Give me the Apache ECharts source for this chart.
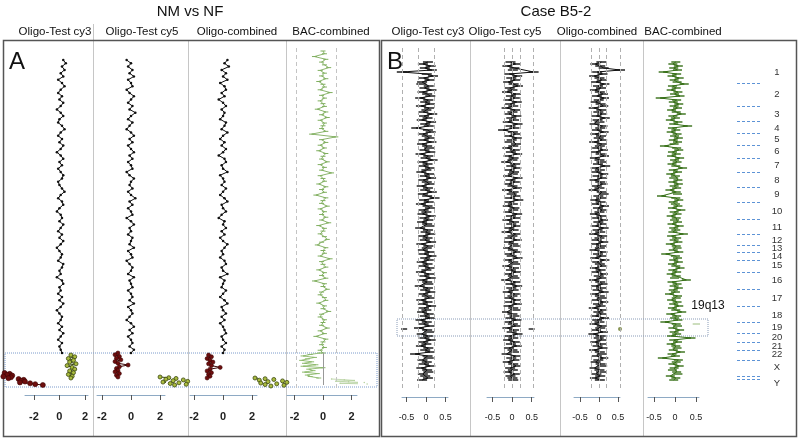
<!DOCTYPE html>
<html><head><meta charset="utf-8">
<script src="https://cdn.jsdelivr.net/npm/echarts@6/dist/echarts.min.js"></script>
<style>html,body{margin:0;padding:0;background:#fff}#c{width:800px;height:441px}</style>
</head><body><div id="c"></div>
<script>
// ---------- DATA ----------
const chrNames = ['1','2','3','4','5','6','7','8','9','10','11','12','13','14','15','16','17','18','19','20','21','22','X','Y'];
const chrLabelPos = [14,36,56,70,81,93,107,122,136,153,169,182,190,198,207,222,240,257,269,279,288,296,309,325];
const chrBounds = [25,48,63,75,87,100,114,129,144,161,176,187,194,202,214,231,248,264,275,284,292,302,318,321];

// Panel A (NM vs NF) – log2 ratios along the genome
const A1 = [.3,.5,.2,.4,.1,.3,-.1,.2,.4,.1,-.1,.2,0,.3,.1,-.2,.1,.3,0,-.1,.2,.4,.1,-.1,.2,0,.3,.1,-.2,.1,.3,0,.2,-.1,.1,.3,.2,-.1,0,.2,.4,.1,-.1,.2,.3,0,-.2,.1,.2,0,.3,.1,-.1,.2,0,.3,.1,-.2,0,.2,.1,-.1,.3,.2,0,.1,-.2,.2,.3,0,.1,-.1,.2,0,.3,.1,-.2,0,.2,.1,-.1,.2,0,.3,.1,-.1,.2,0,.1,.2];
const A2 = [-.3,0,-.2,.1,-.1,.2,-.2,0,.1,-.3,-.1,.2,0,-.2,.1,-.1,.3,0,-.2,.1,-.1,-.3,0,.2,-.1,.1,-.2,0,.2,-.1,.1,-.2,0,.1,-.3,-.1,.2,0,-.1,.1,-.2,0,.3,-.1,.1,-.2,0,.1,-.3,0,.2,-.1,0,-.2,.1,0,-.1,.2,-.2,0,.1,-.3,-.1,.1,0,-.2,.2,-.1,0,.1,-.2,0,.1,-.1,.2,-.2,0,.1,-.1,-.3,0,.2,-.1,.1,-.2,0,.1,-.1,.2,0];
const A3 = [.3,.1,.4,-.1,.2,0,.3,-.2,.1,.2,-.1,.1,-.3,0,.2,-.1,.1,0,-.2,.2,.1,-.1,.3,0,-.2,.1,-.1,.2,0,-.3,.1,.2,-.1,0,.3,-.2,0,.1,-.1,.2,0,-.2,.1,.3,-.1,0,.2,-.1,-.3,.1,0,.2,-.1,.1,-.2,0,.3,.1,-.1,0,-.2,.1,.2,-.1,0,.3,-.2,.1,0,-.1,.2,0,-.2,.1,.3,-.1,0,.2,-.1,.1,-.2,0,.1,.2,-.1,0,.2,-.1,.1,0];
const A4 = [0,.1,-.6,.2,-.1,.1,.4,-.2,.1,-.1,.2,-.3,0,.1,-.2,.5,-.1,.1,-.2,0,.1,-.4,.2,-.1,.3,-.2,.1,0,-.1,.2,-.8,.9,-.1,.2,-.2,.1,-.3,.2,0,-.1,.3,-.2,.1,-.1,.6,-.2,0,.1,-.3,.2,-.1,.1,-.5,.2,0,-.1,.3,-.2,.1,-.1,.2,-.1,.4,-.3,.1,0,-.2,.1,.3,-.1,-.4,.2,0,.1,-.2,.5,-.1,0,.2,-.3,.1,-.1,.2,-.6,.1,0,.3,-.1,-.2,.1,.2,-.3,.1,0,.4,-.1,-.2,.1,0,-.1,.3,-.2,.1,-.5,.2,0,-.1,.1,-.2,0];
const A1X = [.9,1.2,.7,1.1,.8,1.3,.6,1.0,1.2,.8,1.1,.7,1.0,.9];
const A1Y = [-4.3,-3.9,-4.1,-3.7,-4.4,-3.8,-4.0,-3.2,-2.8,-3.0,-2.7,-3.1,-2.3,-1.9,-1.3];
const A2X = [-.9,-1.1,-.8,-1.0,-.7,-1.1,-.9,-.2,-.8,-1.0,-.9,-1.1,-.8,-1.0,-.9];
const A2Y = [2.0,2.6,3.1,2.4,3.6,2.9,3.9,2.2,3.3,2.7,3.8,3.0];
const A3X = [-1.0,-.8,-1.1,-.9,-.7,-1.0,-.8,-.2,-.9,-1.1,-.8,-1.0,-.9,-1.1];
const A3Y = [2.2,2.9,3.5,2.5,4.1,3.1,4.4,2.6,3.7,2.9,4.2,3.3];
const A4X = [-.2,-.9,-1.4,-.6,-1.1,-1.5,-.8,-1.3,-.5,-1.4,0,-1.0,-.7,-1.3,-.4,-1.1,-.9,-.3];
const A4Y = [.6,1.5,2.2,.9,1.8,2.9,1.2,3.1];

// Panel B (Case B5-2)
const B1 = [.05,-.08,.12,-.03,.15,-.62,.02,.18,-.06,.09,-.10,-.12,.07,-.04,.14,-.09,.03,.11,-.15,.06,
-.02,.10,-.13,.08,.01,-.07,.16,-.05,.04,-.11,.13,-.02,.07,-.25,.05,.12,-.08,.02,.09,-.06,
.14,-.10,.03,.08,-.04,.11,-.14,.06,-.01,.17,-.09,.04,-.06,.10,.01,-.12,.08,-.03,.13,-.07,
.02,.09,-.11,.05,-.02,.15,-.08,.03,.22,-.05,.07,-.13,.04,.10,-.06,.01,-.09,.12,-.04,.06,
-.10,.03,.08,-.15,.05,-.01,.11,-.07,.04,-.03,.13,-.12,.06,.02,-.08,.09,-.05,.14,-.02,.07,
-.11,.04,-.06,.10,.01,-.13,.08,-.04,.12,-.09,.03,.06,-.16,.05,-.02,.11,-.07,.02,.09,-.12,
.04,-.08,.13,-.05,.01,-.10,.07,-.03,.10,-.14,.02,-.06,.09,-.18,.03,.08,-.11,.05,-.04,.12,
-.07,.01,-.13,.06,-.02,.10,-.28,.04,.07,-.09,.02,-.05,.11,-.12,.03,.06,-.08,-.02,.05,-.10];
const B2 = [-.04,.09,-.12,.06,.02,.55,-.07,.13,-.02,.08,-.10,.04,.15,-.06,.01,-.13,.10,-.03,.07,-.09,
.12,-.05,.03,-.14,.08,.01,-.08,.11,-.02,.05,-.11,.14,-.04,.06,-.23,.02,.09,-.07,.12,-.01,
-.06,.10,.03,-.12,.07,-.03,.13,-.09,.04,.01,-.15,.08,-.02,.11,-.06,.05,.02,-.10,.14,-.04,
.07,-.08,.01,.12,-.13,.04,-.01,.09,-.05,.16,-.07,.02,-.11,.06,.03,-.09,.13,-.03,.08,-.12,
.05,-.02,.10,-.07,.04,-.14,.09,.01,-.05,.12,-.08,.03,.07,-.10,.02,.11,-.06,-.01,.14,-.09,
.03,.08,-.12,.05,-.03,.10,-.08,.02,.06,-.15,.09,-.04,.13,-.02,.04,-.11,.07,.01,-.07,.10,
-.05,.12,-.09,.03,.08,-.13,.01,.06,-.04,.11,-.08,.02,.09,-.12,.05,-.01,.14,-.06,.03,-.10,
.07,-.03,.12,-.08,.01,.05,-.14,.09,-.02,.06,-.11,.03,.10,-.05,.02,-.09,.07,-.04,.01,.03];
const B3 = [.06,-.10,.03,.12,.55,-.05,.09,-.13,.01,.07,-.08,.14,-.03,.05,-.11,.02,.10,-.06,.13,-.01,
-.09,.04,.11,-.14,.06,-.02,.08,-.07,.15,-.04,.01,-.12,.09,.03,-.06,.12,-.10,.05,-.01,.08,
-.13,.07,.02,-.05,.10,-.08,.04,.13,-.11,.01,.06,-.03,.16,-.09,.02,-.07,.11,-.04,.08,-.12,
.03,.09,-.06,.01,-.14,.07,.12,-.02,.05,-.10,.04,-.07,.13,-.03,.08,.01,-.11,.06,-.05,.10,
-.02,.07,-.09,.12,-.04,.03,-.13,.08,.01,-.06,.11,-.08,.05,.02,-.12,.09,-.03,.06,-.10,.14,
-.05,.02,.08,-.11,.04,-.07,.10,-.01,.06,-.13,.03,.09,-.08,.05,-.04,.12,-.10,.02,.07,-.06,
.11,-.03,.04,-.14,.08,-.02,.06,-.09,.13,-.05,.01,-.12,.07,.03,-.08,.10,-.15,.04,-.01,.06,
-.10,.05,-.04,.09,-.13,.02,.07,-.06,.11,-.02,-.09,.04,.08,-.12,.01,.05,-.07,.03,-.11,.02];
const B4 = [.02,-.05,.08,-.03,.06,-.28,.04,-.07,.10,-.02,.05,.22,-.06,.03,-.09,.07,-.01,.12,-.35,.04,
-.04,.09,-.02,.06,-.08,.03,.15,-.05,.01,-.11,.07,-.03,.30,-.06,.02,-.09,.05,-.01,.08,-.04,
.06,-.02,-.25,.04,.09,-.06,.03,-.08,.11,-.01,.05,-.07,.02,.18,-.04,.06,-.10,.01,-.03,.07,
-.05,.08,-.02,.04,-.12,.03,.06,-.32,.02,.09,-.04,.01,.07,-.06,.14,-.02,.05,-.09,.03,-.01,
.06,-.07,.10,-.03,.02,-.05,.20,-.08,.04,-.02,.07,-.11,.03,.05,-.04,.09,-.22,.01,.06,-.03,
.08,-.06,.02,.12,-.05,.04,-.09,.03,-.01,.27,-.07,.05,-.02,.08,-.04,.01,-.13,.06,.03,-.08,
.05,-.03,.09,-.06,.02,.16,-.10,.04,-.01,.07,-.24,.03,.06,-.05,.11,-.02,.04,-.08,.38,-.03,
.06,-.09,.02,.05,-.04,.13,-.07,.01,-.30,.08,.03,-.05,.10,-.02,-.06,.04,.07,-.11,.02,-.03];
const B1out = [-.56], B2out = [.50], B3out = [.55], B4out = [.42,.60];

// genomic spans [start,end] on the shared genome axis
const spanA = [2,295], spanA4 = [-7,295], spanB = [4,322];
const spanA1X=[297,320], spanA1Y=[315,327], spanA2X=[295,319], spanA2Y=[319,327];
const spanA3X=[297,320], spanA3Y=[320,328], spanA4X=[295,320], spanA4Y=[321,326];
const posOut = 271, posOut4 = 266;
const boxA = [295,329], boxB = [261,278];

// ---------- CHART ----------
const chart = echarts.init(document.getElementById('c'), null, {renderer:'canvas'});
const along = (vals, s) => vals.map((v,k)=>[v, vals.length>1 ? s[0] + k*(s[1]-s[0])/(vals.length-1) : s[0]]);

const cols = [
 {left:25, width:63, min:-2.7, max:2.24, ticks:[-2,0,2], off:7, A:true},
 {left:97, width:68, min:-2.34, max:2.34, ticks:[-2,0,2], off:7, A:true},
 {left:190, width:67, min:-2.28, max:2.34, ticks:[-2,0,2], off:7, A:true},
 {left:287, width:70, min:-2.53, max:2.39, ticks:[-2,0,2], off:7, A:true},
 {left:402, width:46, min:-0.615, max:0.564, ticks:[-0.5,0,0.5], off:9},
 {left:487, width:47, min:-0.64, max:0.56, ticks:[-0.5,0,0.5], off:9},
 {left:574, width:46, min:-0.66, max:0.55, ticks:[-0.5,0,0.5], off:9},
 {left:648, width:51, min:-0.64, max:0.57, ticks:[-0.5,0,0.5], off:9}
];
const grids = [], xAxes = [], yAxes = [];
const yBase = {type:'value', min:-10, max:330, inverse:true, show:false};
cols.forEach((c,i)=>{
  grids.push({left:c.left, width:c.width, top:48, height:340, outerBoundsMode:'none'});
  xAxes.push({gridIndex:i, type:'value', min:c.min, max:c.max, position:'bottom', offset:c.off,
    splitLine:{show:false},
    axisLine:{show:true, onZero:false, lineStyle:{color:'#8eaac4', width:1}},
    axisTick:{show:true, customValues:c.ticks, length:5, lineStyle:{color:'#555'}},
    axisLabel:{show:true, customValues:c.ticks, margin:16, color:'#222',
      fontFamily:'Liberation Sans, Arial', fontSize:c.A?11:9, fontWeight:c.A?'bold':'normal'}});
  yAxes.push(Object.assign({gridIndex:i}, yBase));
});
// chromosome label grid (8)
grids.push({left:737, width:23, top:48, height:340, outerBoundsMode:'none'});
xAxes.push({gridIndex:8, type:'value', min:0, max:1, show:false});
yAxes.push({gridIndex:8, type:'value', min:-10, max:330, inverse:true, position:'right',
  splitLine:{show:false}, axisLine:{show:false}, axisTick:{show:false},
  axisLabel:{show:true, customValues:chrLabelPos, margin:17, align:'center', color:'#333',
    fontFamily:'Liberation Sans, Arial', fontSize:9.5, lineHeight:9,
    formatter:v=>chrNames[chrLabelPos.indexOf(v)]}});
// box grids (9: panel A, 10: panel B)
grids.push({left:5, width:372, top:48, height:340, outerBoundsMode:'none'});
xAxes.push({gridIndex:9, type:'value', min:0, max:1, show:false});
yAxes.push(Object.assign({gridIndex:9}, yBase));
grids.push({left:397, width:311, top:48, height:340, outerBoundsMode:'none'});
xAxes.push({gridIndex:10, type:'value', min:0, max:1, show:false});
yAxes.push(Object.assign({gridIndex:10}, yBase));

const series = [];
const noAnim = {animation:false, silent:true, clip:false};
const vlines = (vals, style) => ({symbol:['none','none'], silent:true, animation:false,
  label:{show:false}, lineStyle:style, data:vals.map(v=>({xAxis:v}))});
const segLines = (vals, y0, y1, style) => ({symbol:['none','none'], silent:true, animation:false,
  label:{show:false}, lineStyle:style, data:vals.map(v=>[{coord:[v,y0]},{coord:[v,y1]}])});

function line(i, vals, span, color, w, sym, symSize, extra){
  return Object.assign({type:'line', xAxisIndex:i, yAxisIndex:i, data:along(vals, span),
    showSymbol:!!sym, symbol:sym||'none', symbolSize:symSize||0,
    itemStyle:{color:color}, lineStyle:{color:color, width:w}}, noAnim, extra||{});
}
const dotted = {type:'dotted', color:'#8a8a8a', width:1};
// Panel A black traces
series.push(line(0, A1, spanA, '#111', 1, 'circle', 2.5, {markLine:segLines([-0.15,0.2], 295, 333, dotted)}));
series.push(line(1, A2, spanA, '#111', 1, 'circle', 2.5, {markLine:segLines([-0.2,0.15], 295, 333, dotted)}));
series.push(line(2, A3, spanA, '#111', 1, 'circle', 2.5, {markLine:segLines([-0.2,0.15], 295, 333, dotted)}));
// Panel A BAC trace
series.push(line(3, A4, spanA4, '#7fae5e', 0.9, 'rect', [5,1], {markLine:{symbol:['none','none'], silent:true, animation:false, label:{show:false},
  data:[{xAxis:-1.85, lineStyle:{type:[4,3], color:'#c4c4c4', width:1}},{xAxis:0.95, lineStyle:{type:[4,3], color:'#c4c4c4', width:1}},
        [{coord:[0,295], lineStyle:{type:'solid', color:'#999', width:1}},{coord:[0,327]}]]}}));
// Panel A X / Y segments
const gFill = '#a9bb3e', gEdge = '#3b4810', red = '#6e0e0e';
const gStyle = {color:gFill, borderColor:gEdge, borderWidth:0.8};
const rStyle = {color:red, borderColor:'#3a0505', borderWidth:0.6};
function colored(i, vals, span, st, lc, size){
  return Object.assign({type:'line', xAxisIndex:i, yAxisIndex:i, data:along(vals, span),
    showSymbol:true, symbol:'circle', symbolSize:size, itemStyle:st, lineStyle:{color:lc, width:1}}, noAnim);
}
series.push(colored(0, A1X, spanA1X, gStyle, gEdge, 4));
series.push(colored(0, A1Y, spanA1Y, rStyle, '#3a0505', 5));
series.push(colored(1, A2X, spanA2X, rStyle, '#3a0505', 4));
series.push(colored(1, A2Y, spanA2Y, gStyle, gEdge, 4));
series.push(colored(2, A3X, spanA3X, rStyle, '#3a0505', 4));
series.push(colored(2, A3Y, spanA3Y, gStyle, gEdge, 4));
series.push(line(3, A4X, spanA4X, '#8dba6c', 0.9, 'rect', [5,1]));
series.push(line(3, A4Y, spanA4Y, '#b5d09e', 0.8, 'circle', 1.5));

// Panel B traces (each probe drawn with a short horizontal whisker)
const dash = {type:[4,3], color:'#b0b0b0', width:1};
series.push(line(4, B1, spanB, '#111', 1, 'rect', [10,1.4], {markLine:vlines([-0.6,-0.2,0.2], dash)}));
series.push(line(5, B2, spanB, '#111', 1, 'rect', [10,1.4], {markLine:vlines([-0.2,0,0.2,0.55], dash)}));
series.push(line(6, B3, spanB, '#111', 1, 'rect', [10,1.4], {markLine:vlines([-0.2,0,0.2,0.55], dash)}));
series.push(line(7, B4, spanB, '#356f16', 1, 'rect', [9,1.4], {markLine:vlines([0.58], dash)}));
series.push(Object.assign({type:'scatter', xAxisIndex:4, yAxisIndex:4, data:B1out.map(v=>[v,posOut]), symbol:'rect', symbolSize:[6,2], itemStyle:{color:'#333'}}, noAnim));
series.push(Object.assign({type:'scatter', xAxisIndex:5, yAxisIndex:5, data:B2out.map(v=>[v,posOut]), symbol:'rect', symbolSize:[6,2], itemStyle:{color:'#333'}}, noAnim));
series.push(Object.assign({type:'scatter', xAxisIndex:6, yAxisIndex:6, data:B3out.map(v=>[v,posOut]), symbol:'circle', symbolSize:4, itemStyle:{color:'#6b7a2a'}}, noAnim));
series.push(Object.assign({type:'line', xAxisIndex:7, yAxisIndex:7, data:B4out.map(v=>[v,posOut4]), showSymbol:false, lineStyle:{color:'#9bbd7c', width:1}}, noAnim));

// chromosome boundary dashes
series.push(Object.assign({type:'scatter', xAxisIndex:8, yAxisIndex:8, data:[[0.5,-10]], symbolSize:0,
  markLine:{symbol:['none','none'], silent:true, animation:false, label:{show:false},
    lineStyle:{type:[3,2], color:'#5d93d6', width:1}, data:chrBounds.map(b=>({yAxis:b}))}}, noAnim));
// highlight boxes
const boxStyle = c => ({color:'rgba(0,0,0,0)', borderColor:c, borderWidth:1, borderType:'dotted'});
series.push(Object.assign({type:'scatter', xAxisIndex:9, yAxisIndex:9, data:[[0,-10]], symbolSize:0,
  markArea:{silent:true, animation:false, itemStyle:boxStyle('#7d9ccc'), data:[[{xAxis:0,yAxis:boxA[0]},{xAxis:1,yAxis:boxA[1]}]]}}, noAnim));
series.push(Object.assign({type:'scatter', xAxisIndex:10, yAxisIndex:10, data:[[0,-10]], symbolSize:0,
  markArea:{silent:true, animation:false, itemStyle:boxStyle('#8a9cb8'), data:[[{xAxis:0,yAxis:boxB[0]},{xAxis:1,yAxis:boxB[1]}]]}}, noAnim));

// ---------- decorations ----------
const F = 'Liberation Sans, Arial, sans-serif';
const txt = (x,y,t,size,extra) => Object.assign({type:'text', x:x, y:y, silent:true,
  style:{text:t, fill:'#111', font:`${size}px ${F}`, textAlign:'center', textVerticalAlign:'middle'}}, extra||{});
const vsep = (x, y1) => ({type:'line', silent:true, shape:{x1:x+0.5,y1:y1,x2:x+0.5,y2:436}, style:{stroke:'#c6c6c6', lineWidth:1}});
const graphic = [
  txt(190,12,'NM vs NF',15), txt(556,12,'Case B5-2',15),
  txt(55,32,'Oligo-Test cy3',11.5), txt(142,32,'Oligo-Test cy5',11.5), txt(237,32,'Oligo-combined',11.5), txt(331,32,'BAC-combined',11.5),
  txt(428,32,'Oligo-Test cy3',11.5), txt(505,32,'Oligo-Test cy5',11.5), txt(597,32,'Oligo-combined',11.5), txt(683,32,'BAC-combined',11.5),
  vsep(93,24), vsep(188,41), vsep(286,41), vsep(470,41), vsep(560,41), vsep(643,41),
  {type:'rect', silent:true, shape:{x:3.5,y:40.5,width:376,height:396}, style:{fill:'none', stroke:'#555', lineWidth:1.5}},
  {type:'rect', silent:true, shape:{x:381.5,y:40.5,width:415,height:396}, style:{fill:'none', stroke:'#555', lineWidth:1.5}},
  txt(17,62,'A',24), txt(395,62,'B',24),
  txt(708,306,'19q13',12)
];

chart.setOption({animation:false, backgroundColor:'#fff', grid:grids, xAxis:xAxes, yAxis:yAxes, series:series, graphic:graphic});
</script></body></html>
